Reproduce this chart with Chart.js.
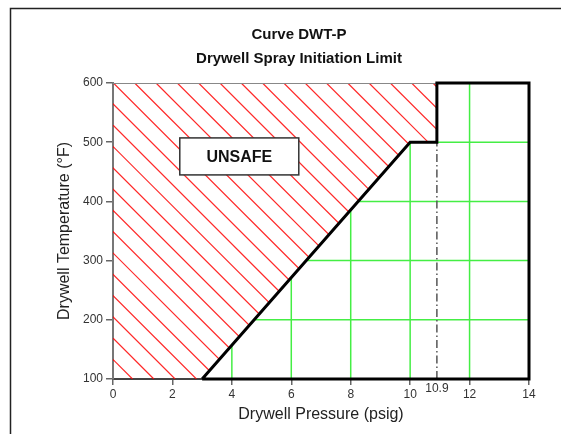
<!DOCTYPE html>
<html>
<head>
<meta charset="utf-8">
<script src="https://cdn.jsdelivr.net/npm/chart.js@4"></script>
<style>
  html, body { margin: 0; padding: 0; background: #fff; }
  canvas { display: block; }
</style>
</head>
<body>
<canvas id="dwtChart" width="561" height="434"></canvas>
<script>
// 데이터
const titleLines = ['Curve DWT-P', 'Drywell Spray Initiation Limit'];
const xTitle = 'Drywell Pressure (psig)';
const yTitle = 'Drywell Temperature (°F)';
const pressureTicks = [0, 2, 4, 6, 8, 10, 12, 14];
const tempTicks = [100, 200, 300, 400, 500, 600];
// 한계선 (psig, °F)
const limitPressure = [3, 10, 10.9, 10.9];
const limitTemp = [100, 500, 500, 600];
// 10.9 psig 보조선
const markPressure = 10.9;
const markTemp = [100, 500];
const unsafeText = 'UNSAFE';
const unsafeAt = { x: 4.25, y: 476 };

const FONT = "'Liberation Sans', Arial, sans-serif";
const pMin = pressureTicks[0], pMax = pressureTicks[pressureTicks.length - 1];
const tMin = tempTicks[0], tMax = tempTicks[tempTicks.length - 1];

// 안전 영역 외곽선 (한계선 + 오른쪽 테두리)
const safeOutline = limitPressure.map((p, i) => ({ x: p, y: limitTemp[i] }));
safeOutline.push({ x: pMax, y: tMax }, { x: pMax, y: tMin }, { x: limitPressure[0], y: tMin });

// 불안전 영역 (빗금)
const unsafePoly = [{ x: pMin, y: tMin }]
  .concat(limitPressure.map((p, i) => ({ x: p, y: limitTemp[i] })))
  .concat([{ x: pMin, y: tMax }]);

function polyPath(ctx, xs, ys, pts) {
  ctx.beginPath();
  pts.forEach((pt, i) => {
    const px = xs.getPixelForValue(pt.x), py = ys.getPixelForValue(pt.y);
    if (i === 0) ctx.moveTo(px, py); else ctx.lineTo(px, py);
  });
  ctx.closePath();
}

const backgroundPlugin = {
  id: 'background',
  beforeDatasetsDraw(chart) {
    const { ctx, chartArea: a, scales: { x, y } } = chart;
    // 빗금
    ctx.save();
    polyPath(ctx, x, y, unsafePoly);
    ctx.clip();
    ctx.strokeStyle = 'rgba(255,0,0,0.85)';
    ctx.lineWidth = 1.2;
    const step = 21.3;
    const h = a.bottom - a.top;
    for (let c = 51.7 - step * 30; c < a.right; c += step) {
      ctx.beginPath();
      ctx.moveTo(c + a.top, a.top);
      ctx.lineTo(c + a.top + h, a.bottom);
      ctx.stroke();
    }
    ctx.restore();

    // 초록 격자 (안전 영역만)
    ctx.save();
    polyPath(ctx, x, y, safeOutline);
    ctx.clip();
    ctx.strokeStyle = '#44ee44';
    ctx.lineWidth = 1.5;
    pressureTicks.forEach(v => {
      const px = x.getPixelForValue(v);
      ctx.beginPath(); ctx.moveTo(px, a.top); ctx.lineTo(px, a.bottom); ctx.stroke();
    });
    tempTicks.forEach(v => {
      const py = y.getPixelForValue(v);
      ctx.beginPath(); ctx.moveTo(a.left, py); ctx.lineTo(a.right, py); ctx.stroke();
    });
    ctx.restore();

    // 위쪽 테두리
    ctx.save();
    ctx.strokeStyle = '#888';
    ctx.lineWidth = 1;
    ctx.beginPath(); ctx.moveTo(a.left, a.top + 0.5); ctx.lineTo(a.right, a.top + 0.5); ctx.stroke();
    ctx.restore();
  },
  afterDraw(chart) {
    const { ctx, scales: { x, y } } = chart;
    ctx.save();
    // 바깥 테두리
    ctx.strokeStyle = '#222';
    ctx.lineWidth = 1.5;
    ctx.beginPath(); ctx.moveTo(10.5, 434); ctx.lineTo(10.5, 8.5); ctx.lineTo(561, 8.5); ctx.stroke();

    // 제목
    ctx.fillStyle = '#111';
    ctx.font = 'bold 15px ' + FONT;
    ctx.textAlign = 'center';
    ctx.textBaseline = 'middle';
    ctx.fillText(titleLines[0], 299, 35);
    ctx.fillText(titleLines[1], 299, 59);

    // UNSAFE 상자
    const cx = x.getPixelForValue(unsafeAt.x), cy = y.getPixelForValue(unsafeAt.y);
    ctx.fillStyle = '#fff';
    ctx.fillRect(cx - 59.5, cy - 18.5, 119, 37);
    ctx.strokeStyle = '#333';
    ctx.lineWidth = 1.5;
    ctx.strokeRect(cx - 59.5, cy - 18.5, 119, 37);
    ctx.fillStyle = '#111';
    ctx.font = 'bold 16px ' + FONT;
    ctx.fillText(unsafeText, cx, cy + 1);

    // 10.9 라벨
    ctx.fillStyle = '#333';
    ctx.font = '12px ' + FONT;
    ctx.fillText(String(markPressure), x.getPixelForValue(markPressure), 389);
    ctx.restore();
  }
};

new Chart(document.getElementById('dwtChart').getContext('2d'), {
  type: 'scatter',
  data: {
    datasets: [
      {
        data: safeOutline,
        showLine: true,
        borderColor: '#000',
        borderWidth: 3,
        pointRadius: 0,
        borderJoinStyle: 'miter',
        clip: false
      },
      {
        data: markTemp.map(t => ({ x: markPressure, y: t })),
        showLine: true,
        borderColor: '#555',
        borderWidth: 1.5,
        borderDash: [8, 3, 1.5, 3],
        pointRadius: 0
      }
    ]
  },
  options: {
    responsive: false,
    animation: false,
    devicePixelRatio: 1,
    layout: { padding: { top: 83, right: 32, left: 0, bottom: 0 } },
    plugins: { legend: { display: false }, tooltip: { enabled: false }, title: { display: false } },
    scales: {
      x: {
        type: 'linear',
        min: pMin,
        max: pMax,
        afterBuildTicks: s => { s.ticks = pressureTicks.map(v => ({ value: v })); },
        afterFit: s => { s.height = 55; },
        grid: { drawOnChartArea: false, tickLength: 6, color: '#666', lineWidth: 1.5 },
        border: { color: '#444', width: 2 },
        ticks: { color: '#333', font: { family: FONT, size: 12 }, padding: 2, maxRotation: 0, autoSkip: false },
        title: { display: true, text: xTitle, color: '#222', font: { family: FONT, size: 16 }, padding: { top: 4, bottom: 10 } }
      },
      y: {
        type: 'linear',
        min: tMin,
        max: tMax,
        afterBuildTicks: s => { s.ticks = tempTicks.map(v => ({ value: v })); },
        afterFit: s => { s.width = 113; },
        grid: { drawOnChartArea: false, tickLength: 7, color: '#666', lineWidth: 1.5 },
        border: { color: '#777', width: 2 },
        ticks: { color: '#333', font: { family: FONT, size: 12 }, padding: 3 },
        title: { display: true, text: yTitle, color: '#222', font: { family: FONT, size: 16 }, padding: { top: 55, bottom: 4 } }
      }
    }
  },
  plugins: [backgroundPlugin]
});
</script>
</body>
</html>
